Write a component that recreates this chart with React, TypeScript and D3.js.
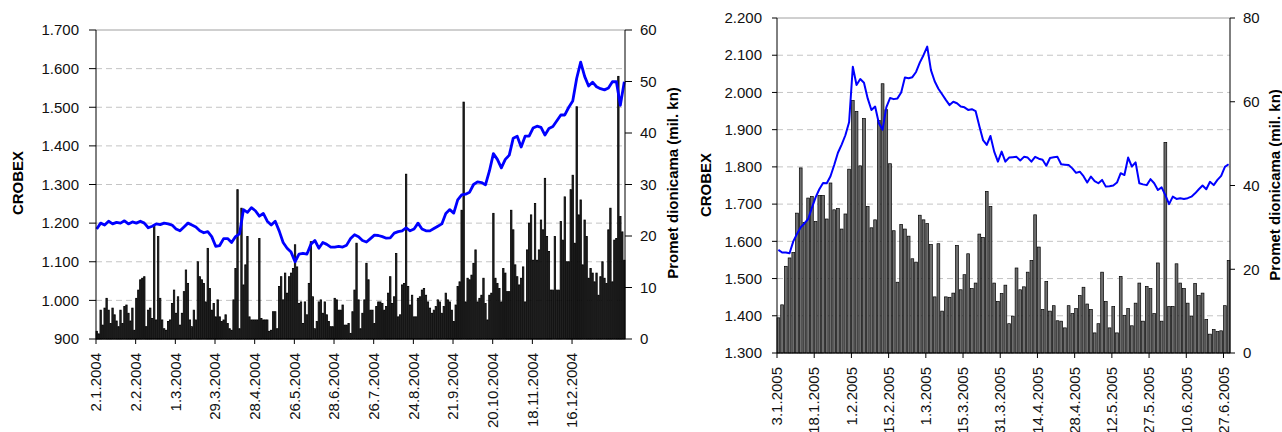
import * as d3 from 'd3';

// 2004: daily turnover (mil. kn), one value per trading day
const volume2004 = [
  1.5, 1.0, 5.6, 2.7, 6, 7.9, 5.6, 3, 6, 4.7,
  3.5, 2.4, 5.6, 3, 6.3, 6.6, 5, 3.5, 6, 1.7,
  7.9, 9.5, 11.5, 11.8, 12.1, 2.4, 5.6, 6, 4, 22,
  3.7, 19.9, 7.9, 3.7, 2, 1.7, 3.4, 3.7, 6.9, 9.5,
  5, 8.2, 2.7, 5, 9.2, 13.4, 10.8, 3.7, 2.4, 5.6,
  3.7, 15, 12.1, 11.5, 10.8, 7.2, 17.6, 9.8, 5.6, 6.9,
  4.3, 7.6, 4.3, 3.4, 3.7, 4.7, 3, 2, 1.7, 7.6,
  13.7, 29, 2, 25.4, 10.5, 14.4, 19.9, 4.3, 3.7, 3.7,
  3.7, 3.7, 19.5, 4, 3.7, 3.7, 3.7, 1.5, 1.7, 5.3,
  5.3, 2, 10.2, 12.1, 7.6, 12.8, 8.9, 12.1, 12.8, 13.7,
  18.3, 14, 6.9, 7.2, 3, 7.2, 4.7, 10.8, 18.9, 8.2,
  2, 3.4, 7.2, 7.6, 5, 7.2, 4.7, 3.4, 2.4, 2.4,
  7.9, 7.6, 5.6, 5.6, 6.6, 2.7, 2.7, 3, 1.1, 5.3,
  9.5, 18.6, 7.6, 2, 5, 7.6, 14.7, 11.5, 5.6, 5.6,
  3, 6.3, 7.2, 7.2, 6.9, 5.6, 6.3, 8.9, 12.1, 6.9,
  8.2, 16.6, 4.3, 4.7, 10.5, 10.8, 32, 10.2, 6.6, 8.5,
  4.3, 4.3, 7.9, 8.2, 9.5, 9.8, 8.5, 7.2, 6, 5,
  5.6, 6.3, 7.6, 7.2, 5, 6.3, 8.9, 7.6, 7.2, 5.6,
  3.4, 6.6, 10.2, 11.1, 25, 46, 7.2, 11.8, 11.5, 12.4,
  14.7, 17.3, 7.2, 7.9, 8.5, 11.8, 6.9, 3.7, 8.5, 8.9,
  24.4, 11.8, 10.8, 9.8, 7.2, 13.7, 12.8, 9.2, 9.2, 25,
  21.2, 14.4, 12.1, 10.5, 11.8, 14, 7.2, 17.3, 22.5, 24.1,
  15.3, 26.3, 15.3, 17.3, 23.1, 21.2, 31.2, 19.9, 17, 9.5,
  9.5, 19.9, 9.5, 9.5, 22.8, 19.2, 27.6, 15, 15, 29,
  31.8, 18.6, 45.1, 24.1, 27, 14.4, 23.1, 19.9, 11.8, 13.7,
  12.8, 11.1, 12.8, 8.5, 12.1, 15, 11.8, 10.8, 21.2, 25.4,
  11.1, 19.2, 19.5, 51, 23.8, 20.8, 15.3,
];
// 2004: CROBEX, every second trading day
const crobex2004 = [
  1185, 1200, 1195, 1205, 1198, 1202, 1200, 1206, 1198, 1203,
  1200, 1205, 1200, 1188, 1192, 1198, 1196, 1200, 1198, 1195,
  1185, 1180, 1190, 1200, 1195, 1190, 1180, 1175, 1178, 1165,
  1140, 1142, 1160, 1160, 1150, 1165, 1172, 1235, 1228, 1240,
  1232, 1218, 1225, 1205, 1195, 1205, 1180, 1150, 1135, 1125,
  1100, 1120, 1122, 1120, 1145, 1155, 1135, 1150, 1145, 1138,
  1138, 1140, 1138, 1143, 1160, 1170, 1165, 1155, 1151, 1160,
  1169, 1168, 1165, 1161, 1162, 1174, 1178, 1180, 1188, 1180,
  1185, 1200, 1185, 1180, 1180, 1186, 1192, 1198, 1225, 1235,
  1226, 1260, 1273, 1275, 1280, 1300, 1307, 1305, 1299, 1335,
  1380, 1365, 1343, 1365, 1376, 1420, 1425, 1397, 1425, 1425,
  1446, 1451, 1448, 1428, 1445, 1450, 1465, 1480, 1480, 1500,
  1516, 1575, 1617, 1580, 1555, 1565, 1553, 1548, 1545, 1550,
  1566, 1566, 1505, 1566,
];
const dates2004 = [
  '2.1.2004', '2.2.2004', '1.3.2004', '29.3.2004', '28.4.2004', '26.5.2004', '28.6.2004',
  '26.7.2004', '24.8.2004', '21.9.2004', '20.10.2004', '18.11.2004', '16.12.2004',
];

// 2005 (first half)
const volume2005 = [
  8.4, 11.5, 20.7, 22.7, 24.0, 33.4, 44.2, 31.2, 37.0, 37.4,
  31.4, 37.6, 37.6, 32.0, 40.6, 34.2, 34.5, 29.6, 33.2, 43.9,
  60.3, 57.7, 44.7, 56.0, 35.0, 29.9, 31.8, 55.5, 64.3, 58.1,
  45.2, 29.2, 16.9, 30.7, 29.6, 27.9, 22.5, 21.7, 32.9, 31.8,
  30.9, 25.9, 13.4, 26.1, 10.0, 13.4, 13.3, 14.3, 25.7, 15.1,
  18.7, 23.7, 15.4, 16.7, 28.4, 27.6, 38.6, 35.0, 16.7, 12.3,
  14.2, 16.2, 7.0, 8.8, 20.3, 15.1, 15.8, 19.3, 22.1, 33.0,
  25.3, 10.4, 17.1, 10.0, 11.3, 7.7, 7.6, 6.0, 11.3, 9.4,
  10.6, 13.7, 15.7, 11.7, 10.4, 4.8, 7.0, 19.3, 12.3, 6.0,
  11.1, 4.8, 18.3, 9.0, 10.6, 6.5, 11.9, 16.7, 7.6, 15.9,
  15.4, 9.4, 21.5, 7.6, 50.3, 11.1, 11.1, 21.3, 16.7, 15.4,
  11.9, 8.8, 16.6, 13.7, 14.3, 8.0, 4.5, 5.6, 5.1, 5.3,
  11.3, 22.1,
];
const crobex2005 = [
  1577, 1570, 1570, 1568, 1600, 1620, 1638, 1648, 1660, 1690,
  1718, 1740, 1757, 1756, 1775, 1805, 1838, 1860, 1885, 1920,
  2069, 2020, 2036, 2026, 1984, 1953, 1962, 1917, 1900, 1960,
  1985, 1982, 1984, 2000, 2040, 2038, 2041, 2055, 2080, 2100,
  2123, 2060, 2030, 2010, 1995, 1980, 1966, 1975, 1971, 1962,
  1960, 1953, 1955, 1950, 1910, 1872, 1859, 1883, 1841, 1814,
  1841, 1814, 1825, 1826, 1827, 1817, 1827, 1825, 1814, 1827,
  1822, 1819, 1803, 1824, 1826, 1827, 1807, 1806, 1805, 1796,
  1784, 1787, 1775, 1758, 1774, 1762, 1756, 1765, 1747, 1748,
  1750, 1758, 1783, 1778, 1825, 1801, 1812, 1756, 1753, 1751,
  1767, 1756, 1738, 1745, 1724, 1700, 1720, 1714, 1716, 1714,
  1716, 1720, 1729, 1740, 1750, 1740, 1760, 1751, 1765, 1776,
  1800, 1807,
];
const dates2005 = [
  '3.1.2005', '18.1.2005', '1.2.2005', '15.2.2005', '1.3.2005', '15.3.2005', '31.3.2005',
  '14.4.2005', '28.4.2005', '12.5.2005', '27.5.2005', '10.6.2005', '27.6.2005',
];

const hr = d3.formatLocale({ decimal: ',', thousands: '.', grouping: [3], currency: ['', ''] });
const fmtIndex = hr.format(',');
const font = '"Liberation Sans", Arial, sans-serif';

interface PanelProps {
  volume: number[];
  index: number[];
  indexEvery: number;
  dates: string[];
  dateEvery: number;
  left: number;
  right: number;
  top: number;
  bottom: number;
  yDomain: [number, number];
  yStep: number;
  vDomain: [number, number];
  vStep: number;
  padding: number;
  barFill: string;
  barStroke: number;
  lineWidth: number;
  tickLen: number;
  titleLeftX: number;
  titleRightX: number;
  titleY: number;
}

const Panel = (p: PanelProps) => {
  const x = d3.scaleBand<number>()
    .domain(d3.range(p.volume.length))
    .range([p.left, p.right])
    .paddingInner(p.padding)
    .paddingOuter(0);
  const bw = x.bandwidth();
  const y = d3.scaleLinear().domain(p.yDomain).range([p.bottom, p.top]);
  const v = d3.scaleLinear().domain(p.vDomain).range([p.bottom, p.top]);
  const line = d3.line<number>()
    .x((d, i) => x(i * p.indexEvery)! + bw / 2)
    .y(d => y(d));
  const yTicks = d3.range(p.yDomain[0], p.yDomain[1] + 1, p.yStep);
  const vTicks = d3.range(p.vDomain[0], p.vDomain[1] + 1, p.vStep);

  return (
    <g>
      {yTicks.map(t => (
        <line
          key={t}
          x1={p.left}
          x2={p.right}
          y1={y(t)}
          y2={y(t)}
          stroke={t === p.yDomain[1] ? '#a0a0a0' : '#c4c4c4'}
          strokeDasharray={t === p.yDomain[1] ? undefined : '6,4'}
          strokeWidth={1}
        />
      ))}
      <g>
        {p.volume.map((d, i) => (
          <rect
            key={i}
            x={x(i)}
            y={v(d)}
            width={bw}
            height={p.bottom - v(d)}
            fill={p.barFill}
            stroke="#000"
            strokeWidth={p.barStroke}
          />
        ))}
      </g>
      <path d={line(p.index) ?? ''} fill="none" stroke="#0000ff" strokeWidth={p.lineWidth} strokeLinejoin="round" />

      <line x1={p.left} x2={p.left} y1={p.top} y2={p.bottom} stroke="#000" />
      <line x1={p.right} x2={p.right} y1={p.top} y2={p.bottom} stroke="#000" />
      <line x1={p.left} x2={p.right} y1={p.bottom} y2={p.bottom} stroke="#000" />

      {yTicks.map(t => (
        <g key={t} transform={`translate(${p.left},${y(t)})`}>
          <line x1={-p.tickLen} x2={0} stroke="#000" />
          <text x={-p.tickLen - 10} dy="0.35em" textAnchor="end" fontSize={15} fill="#111">{fmtIndex(t)}</text>
        </g>
      ))}
      {vTicks.map(t => (
        <g key={t} transform={`translate(${p.right},${v(t)})`}>
          <line x1={0} x2={p.tickLen} stroke="#000" />
          <text x={p.tickLen + 8} dy="0.35em" textAnchor="start" fontSize={15} fill="#111">{t}</text>
        </g>
      ))}
      {p.dates.map((label, k) => {
        const xi = x(k * p.dateEvery)!;
        return (
          <g key={label} transform={`translate(${xi},${p.bottom})`}>
            <line y1={0} y2={5} stroke="#000" />
            <text transform="translate(0,14) rotate(-90)" dy="0.35em" textAnchor="end" fontSize={15} fill="#111">{label}</text>
          </g>
        );
      })}

      <text
        transform={`translate(${p.titleLeftX},${p.titleY}) rotate(-90)`}
        dy="0.35em"
        textAnchor="middle"
        fontSize={15}
        fontWeight="bold"
      >CROBEX</text>
      <text
        transform={`translate(${p.titleRightX},${p.titleY}) rotate(-90)`}
        dy="0.35em"
        textAnchor="middle"
        fontSize={15}
        fontWeight="bold"
      >Promet dionicama (mil. kn)</text>
    </g>
  );
};

export default function App() {
  return (
    <svg
      width={1282}
      height={432}
      style={{ position: 'absolute', left: 0, top: 0, background: '#fff', fontFamily: font }}
    >
      <Panel
        volume={volume2004}
        index={crobex2004}
        indexEvery={2}
        dates={dates2004}
        dateEvery={20}
        left={96}
        right={625}
        top={30}
        bottom={339}
        yDomain={[900, 1700]}
        yStep={100}
        vDomain={[0, 60]}
        vStep={10}
        padding={0.3}
        barFill="#2a2a2a"
        barStroke={0.8}
        lineWidth={2.8}
        tickLen={7}
        titleLeftX={18}
        titleRightX={673}
        titleY={183}
      />
      <Panel
        volume={volume2005}
        index={crobex2005}
        indexEvery={1}
        dates={dates2005}
        dateEvery={10}
        left={777}
        right={1230}
        top={18}
        bottom={353}
        yDomain={[1300, 2200]}
        yStep={100}
        vDomain={[0, 80]}
        vStep={20}
        padding={0.25}
        barFill="#6e6e6e"
        barStroke={0.7}
        lineWidth={2}
        tickLen={5}
        titleLeftX={706}
        titleRightX={1275}
        titleY={185}
      />
    </svg>
  );
}
